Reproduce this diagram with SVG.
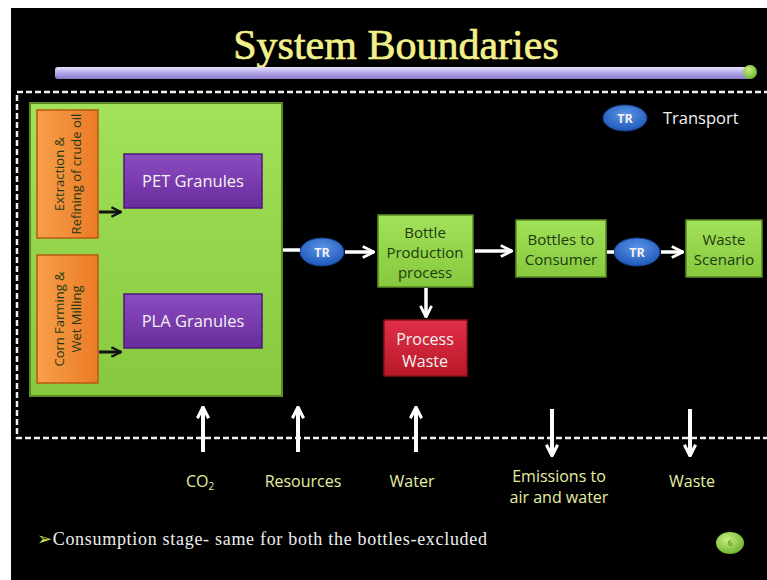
<svg xmlns="http://www.w3.org/2000/svg" width="767" height="580" viewBox="0 0 767 580">
<defs>
<linearGradient id="gGreen" x1="0" y1="0" x2="0" y2="1"><stop offset="0" stop-color="#a2e25a"/><stop offset="1" stop-color="#86c83e"/></linearGradient>
<linearGradient id="gOrange" x1="0" y1="0" x2="1" y2="0"><stop offset="0" stop-color="#f7a04a"/><stop offset="1" stop-color="#ec7a26"/></linearGradient>
<linearGradient id="gPurple" x1="0" y1="0" x2="0" y2="1"><stop offset="0" stop-color="#8a4cc0"/><stop offset="1" stop-color="#6a2c9c"/></linearGradient>
<linearGradient id="gRed" x1="0" y1="0" x2="0" y2="1"><stop offset="0" stop-color="#e0304a"/><stop offset="1" stop-color="#b81828"/></linearGradient>
<radialGradient id="gBlue" cx="0.5" cy="0.35" r="0.65"><stop offset="0" stop-color="#5a94e8"/><stop offset="1" stop-color="#1f58b8"/></radialGradient>
<linearGradient id="gBar" x1="0" y1="0" x2="0" y2="1"><stop offset="0" stop-color="#e6e0ff"/><stop offset="0.5" stop-color="#b3a6e6"/><stop offset="1" stop-color="#8a7ac8"/></linearGradient>
<radialGradient id="gDot" cx="0.4" cy="0.35" r="0.7"><stop offset="0" stop-color="#c8f080"/><stop offset="1" stop-color="#6cb02c"/></radialGradient>
<marker id="wArr" viewBox="0 0 10 10" refX="9" refY="5" markerWidth="4" markerHeight="4" orient="auto" markerUnits="strokeWidth"><path d="M1,1 L9,5 L1,9" fill="none" stroke="#ffffff" stroke-width="2"/></marker>
<marker id="bArr" viewBox="0 0 10 10" refX="9" refY="5" markerWidth="4" markerHeight="4" orient="auto" markerUnits="strokeWidth"><path d="M1,1 L9,5 L1,9" fill="none" stroke="#111111" stroke-width="2"/></marker>
<marker id="vArr" viewBox="0 0 10 10" refX="9" refY="5" markerWidth="3.5" markerHeight="3.5" orient="auto" markerUnits="strokeWidth"><path d="M1,1 L9,5 L1,9" fill="none" stroke="#ffffff" stroke-width="2.2"/></marker>
</defs>
<style>
.lbl{font-family:"Open Sans","Liberation Sans",sans-serif;text-anchor:middle}
.box{font-size:15px}
.gran{font-size:16.5px}
.side{font-size:13px}
.tr{font-size:12.5px;font-weight:bold}
.dark{fill:#1e3a10}
.light{fill:#f2f2f2}
.flow{font-family:"Open Sans","Liberation Sans",sans-serif;font-size:16px;fill:#e6eea0;text-anchor:middle}
.wline{stroke:#ffffff;stroke-width:3.5;fill:none}
.vline{stroke:#ffffff;stroke-width:4;fill:none}
.bline{stroke:#111111;stroke-width:3;fill:none}
</style>
<rect x="0" y="0" width="767" height="580" fill="#ffffff"/>
<rect x="11" y="8" width="756" height="572" fill="#000000"/>

<g id="title">
<text x="396" y="59" font-family="'Liberation Serif','DejaVu Serif',serif" font-size="42" fill="#f2f08a" stroke="#f2f08a" stroke-width="0.7" text-anchor="middle">System Boundaries</text>
<rect x="55" y="67" width="697" height="12" rx="3" fill="url(#gBar)"/>
<circle cx="750" cy="72" r="7" fill="url(#gDot)"/>
</g>

<g id="boundary">
<rect x="17" y="92" width="770" height="346" fill="none" stroke="#f0f0f0" stroke-width="2.5" stroke-dasharray="6,3"/>
</g>

<g id="legend">
<ellipse cx="625" cy="118" rx="22" ry="13" fill="url(#gBlue)" stroke="#16408a" stroke-width="1"/>
<text x="625" y="123" class="lbl light tr">TR</text>
<text x="663" y="124" font-family="'Open Sans','Liberation Sans',sans-serif" font-size="16.5" fill="#f2f2f2">Transport</text>
</g>

<g id="granules-block">
<rect x="30" y="103" width="252" height="293" fill="url(#gGreen)" stroke="#5a8a28" stroke-width="2"/>
</g>
<g id="extraction">
<rect x="37" y="110" width="61" height="128" fill="url(#gOrange)" stroke="#b85a10" stroke-width="1.5"/>
<text transform="translate(64,174) rotate(-90)" class="lbl dark side">Extraction &amp;</text>
<text transform="translate(81,174) rotate(-90)" class="lbl dark side">Refining of crude oil</text>
</g>
<g id="corn">
<rect x="37" y="255" width="61" height="128" fill="url(#gOrange)" stroke="#b85a10" stroke-width="1.5"/>
<text transform="translate(64,319) rotate(-90)" class="lbl dark side">Corn Farming &amp;</text>
<text transform="translate(81,319) rotate(-90)" class="lbl dark side">Wet Milling</text>
</g>
<g id="pet">
<rect x="124" y="154" width="138" height="54" fill="url(#gPurple)" stroke="#4a1a78" stroke-width="1.5"/>
<text x="193" y="187" class="lbl light gran">PET Granules</text>
</g>
<g id="pla">
<rect x="124" y="294" width="138" height="54" fill="url(#gPurple)" stroke="#4a1a78" stroke-width="1.5"/>
<text x="193" y="327" class="lbl light gran">PLA Granules</text>
</g>

<g id="tr1">
<ellipse cx="322" cy="252" rx="22" ry="14" fill="url(#gBlue)" stroke="#16408a" stroke-width="1"/>
<text x="322" y="257" class="lbl light tr">TR</text>
</g>
<g id="bottle-production">
<rect x="378" y="215" width="95" height="72" fill="url(#gGreen)" stroke="#5a8a28" stroke-width="1.5"/>
<text x="425" y="238" class="lbl dark box">Bottle</text>
<text x="425" y="258" class="lbl dark box">Production</text>
<text x="425" y="278" class="lbl dark box">process</text>
</g>
<g id="process-waste">
<rect x="384" y="320" width="83" height="56" fill="url(#gRed)" stroke="#8a1018" stroke-width="1.5"/>
<text x="425" y="345" class="lbl light box" style="font-size:16px">Process</text>
<text x="425" y="367" class="lbl light box" style="font-size:16px">Waste</text>
</g>
<g id="bottles-consumer">
<rect x="516" y="220" width="90" height="57" fill="url(#gGreen)" stroke="#5a8a28" stroke-width="1.5"/>
<text x="561" y="245" class="lbl dark box">Bottles to</text>
<text x="561" y="265" class="lbl dark box">Consumer</text>
</g>
<g id="tr2">
<ellipse cx="637" cy="252" rx="23" ry="14" fill="url(#gBlue)" stroke="#16408a" stroke-width="1"/>
<text x="637" y="257" class="lbl light tr">TR</text>
</g>
<g id="waste-scenario">
<rect x="686" y="220" width="76" height="57" fill="url(#gGreen)" stroke="#5a8a28" stroke-width="1.5"/>
<text x="724" y="245" class="lbl dark box">Waste</text>
<text x="724" y="265" class="lbl dark box">Scenario</text>
</g>

<g id="connectors">
<line x1="99" y1="212" x2="121" y2="212" class="bline" marker-end="url(#bArr)"/>
<line x1="99" y1="352" x2="121" y2="352" class="bline" marker-end="url(#bArr)"/>
<line x1="283" y1="250" x2="300" y2="250" class="wline"/>
<line x1="345" y1="252" x2="374" y2="252" class="wline" marker-end="url(#wArr)"/>
<line x1="475" y1="251" x2="512" y2="251" class="wline" marker-end="url(#wArr)"/>
<line x1="607" y1="252" x2="614" y2="252" class="wline"/>
<line x1="661" y1="252" x2="683" y2="252" class="wline" marker-end="url(#wArr)"/>
<line x1="426" y1="288" x2="426" y2="317" class="wline" marker-end="url(#wArr)"/>
<line x1="203" y1="452" x2="203" y2="407" class="vline" marker-end="url(#vArr)"/>
<line x1="298" y1="452" x2="298" y2="407" class="vline" marker-end="url(#vArr)"/>
<line x1="416" y1="452" x2="416" y2="407" class="vline" marker-end="url(#vArr)"/>
<line x1="552" y1="409" x2="552" y2="456" class="vline" marker-end="url(#vArr)"/>
<line x1="690" y1="409" x2="690" y2="456" class="vline" marker-end="url(#vArr)"/>
</g>

<g id="flows">
<text x="200" y="487" class="flow">CO<tspan font-size="10" dy="3">2</tspan></text>
<text x="303" y="487" class="flow">Resources</text>
<text x="412" y="487" class="flow">Water</text>
<text x="559" y="482" class="flow">Emissions to</text>
<text x="559" y="503" class="flow">air and water</text>
<text x="692" y="487" class="flow">Waste</text>
</g>

<g id="footnote">
<text x="37" y="545" font-family="'Liberation Serif','DejaVu Serif',serif" font-size="18" fill="#eeeeee" textLength="450" lengthAdjust="spacing"><tspan fill="#c8e040">➢</tspan>Consumption stage- same for both the bottles-excluded</text>
</g>
<g id="page">
<ellipse cx="730" cy="543" rx="14" ry="11" fill="url(#gDot)"/>
<text x="730" y="546" font-family="'Liberation Serif',serif" font-size="8" fill="#3a6a10" text-anchor="middle">6</text>
</g>
</svg>
